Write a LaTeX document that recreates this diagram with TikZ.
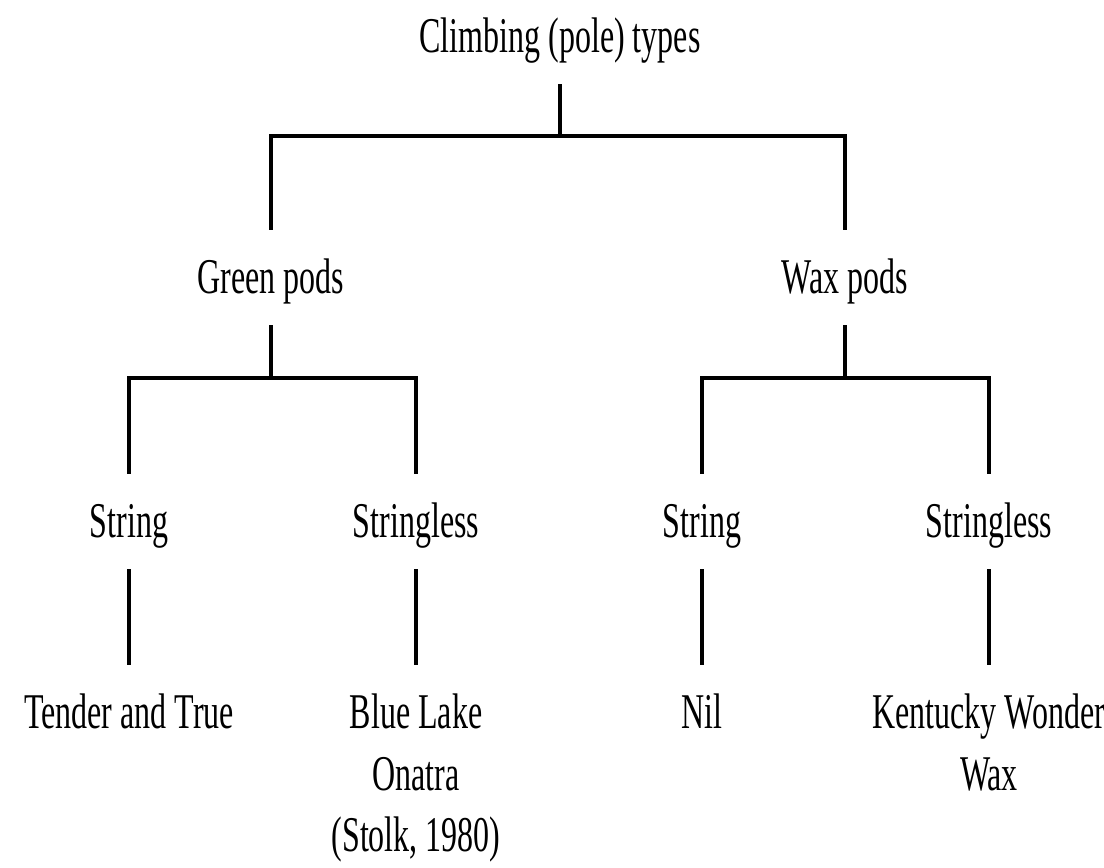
\documentclass[tikz,border=0pt]{standalone}
\usepackage{fontspec}
\setmainfont{Liberation Serif}[FakeStretch=0.64]

\begin{document}
\begin{tikzpicture}[
    x=0.02cm, y=-0.02cm,
    item/.style = {font=\fontsize{1cm}{1.24cm}\selectfont, anchor=base, text height=0.66cm, text depth=0.04cm, inner xsep=0pt, inner ysep=0.6cm},
    link/.style = {draw=black, line width=0.07cm}
]
\useasboundingbox (0,0) rectangle (1104,867);

\node (root) [item] at (560,52) {Climbing (pole) types};

% Second level
\node (green) [item] at (271,293) {Green pods};
\node (wax) [item] at (845,293) {Wax pods};

% Third level
\node (gstr) [item] at (129,537) {String};
\node (gsls) [item] at (416,537) {Stringless};
\node (wstr) [item] at (702,537) {String};
\node (wsls) [item] at (989,537) {Stringless};

% Cultivars
\node (tender) [item] at (129,728) {Tender and True};
\node (blue) [item] at (416,728) {\begin{tabular}[t]{@{}c@{}}Blue Lake\\Onatra\\(Stolk, 1980)\end{tabular}};
\node (nil) [item] at (702,728) {Nil};
\node (kent) [item] at (989,728) {\begin{tabular}[t]{@{}c@{}}Kentucky Wonder\\Wax\end{tabular}};

% Junctions
\coordinate (rootj) at (560,136);
\coordinate (greenj) at (271,378);
\coordinate (waxj) at (845,378);

\draw [link] (root) -- (rootj);
\draw [link] (green.north) |- (rootj) -| (wax.north);

\draw [link] (green) -- (greenj);
\draw [link] (gstr.north) |- (greenj) -| (gsls.north);
\draw [link] (wax) -- (waxj);
\draw [link] (wstr.north) |- (waxj) -| (wsls.north);

\draw [link] (gstr.south) -- (tender.north);
\draw [link] (gsls.south) -- (blue.north);
\draw [link] (wstr.south) -- (nil.north);
\draw [link] (wsls.south) -- (kent.north);

\end{tikzpicture}
\end{document}
